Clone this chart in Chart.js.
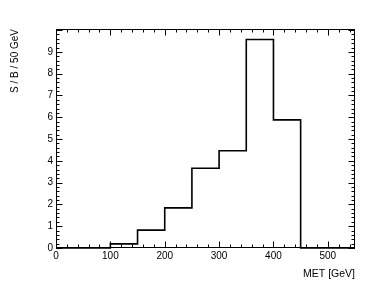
<!DOCTYPE html>
<html lang="en">
<head>
  <meta charset="UTF-8">
  <title>S / B vs MET</title>
  <script src="https://cdn.jsdelivr.net/npm/chart.js"></script>
  <style>
    html, body { margin: 0; padding: 0; background: #fff; }
    #wrap { width: 374px; height: 292px; }
  </style>
</head>
<body>
  <div id="wrap"><canvas id="hist" width="374" height="292"></canvas></div>

  <script>
    // histogram bins (MET, 50 GeV wide) and S/B per bin
    const binEdges = [0, 50, 100, 150, 200, 250, 300, 350, 400, 450, 500, 550];
    const sOverB = [0, 0, 0.19, 0.82, 1.84, 3.66, 4.46, 9.57, 5.88, 0, 0];
    const xTickLabels = [0, 100, 200, 300, 400, 500];
    const yTickLabels = [0, 1, 2, 3, 4, 5, 6, 7, 8, 9];

    // one point per bin edge, the last one repeats the last bin value
    const points = binEdges.map((e, i) => ({ x: e, y: sOverB[Math.min(i, sOverB.length - 1)] }));

    // ROOT style frame with ticks drawn inside
    const frameTicks = {
      id: 'frameTicks',
      afterDraw(chart) {
        const { ctx, chartArea: a, scales: { x, y } } = chart;
        ctx.save();
        ctx.strokeStyle = '#000';
        ctx.lineWidth = 1;
        ctx.strokeRect(a.left + 0.5, a.top + 0.5, a.right - a.left - 1, a.bottom - a.top - 1);
        ctx.beginPath();
        for (let v = 0; v <= 550; v += 20) {
          const px = Math.round(x.getPixelForValue(v)) + 0.5;
          const len = v % 100 === 0 ? 6.5 : 3.5;
          ctx.moveTo(px, a.bottom); ctx.lineTo(px, a.bottom - len);
          ctx.moveTo(px, a.top); ctx.lineTo(px, a.top + len);
        }
        for (let k = 0; k <= 50; k++) {
          const v = k * 0.2;
          if (v > y.max) break;
          const py = Math.round(y.getPixelForValue(v)) + 0.5;
          const len = k % 5 === 0 ? 6.5 : 3.5;
          ctx.moveTo(a.left, py); ctx.lineTo(a.left + len, py);
          ctx.moveTo(a.right, py); ctx.lineTo(a.right - len, py);
        }
        ctx.stroke();
        ctx.restore();
      }
    };

    const tickFont = { family: '"Liberation Sans", Arial, sans-serif', size: 10 };
    const titleFont = { family: '"Liberation Sans", Arial, sans-serif', size: 10.5 };

    new Chart(document.getElementById('hist'), {
      type: 'line',
      data: {
        datasets: [{
          data: points,
          stepped: true,
          borderColor: '#000',
          borderWidth: 1.6,
          pointRadius: 0,
          fill: false,
          clip: false
        }]
      },
      options: {
        responsive: false,
        animation: false,
        layout: { padding: { top: 29, right: 19, left: 0, bottom: 0 } },
        plugins: { legend: { display: false }, tooltip: { enabled: false } },
        scales: {
          x: {
            type: 'linear',
            min: 0,
            max: 550,
            afterFit: s => { s.height = 44; },
            afterBuildTicks: s => { s.ticks = xTickLabels.map(v => ({ value: v })); },
            grid: { display: false, drawTicks: false },
            border: { display: false },
            ticks: { color: '#000', font: tickFont, padding: 2, maxRotation: 0 },
            title: {
              display: true, text: 'MET [GeV]', align: 'end', color: '#000',
              font: titleFont, padding: { top: 0, bottom: 12 }
            }
          },
          y: {
            min: 0,
            max: 10.05,
            afterFit: s => { s.width = 56; },
            afterBuildTicks: s => { s.ticks = yTickLabels.map(v => ({ value: v })); },
            grid: { display: false, drawTicks: false },
            border: { display: false },
            ticks: { color: '#000', font: tickFont, padding: 3 },
            title: {
              display: true, text: 'S / B / 50 GeV', align: 'end', color: '#000',
              font: { family: tickFont.family, size: 10 }, padding: { top: 9, bottom: 0 }
            }
          }
        }
      },
      plugins: [frameTicks]
    });
  </script>
</body>
</html>
